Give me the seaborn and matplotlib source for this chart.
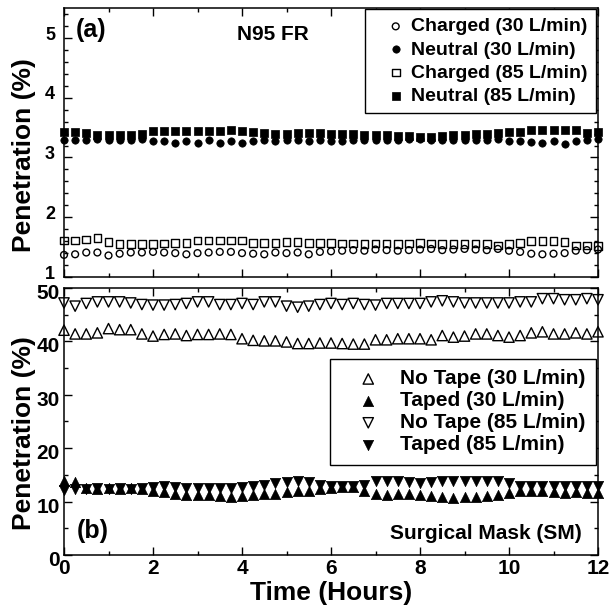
import matplotlib
matplotlib.use("Agg")
import matplotlib.pyplot as plt
import matplotlib.transforms as mtransforms
import seaborn as sns
from matplotlib.ticker import MultipleLocator

# ---------------- data ----------------
hours = [0.0, 0.25, 0.5, 0.75, 1.0, 1.25, 1.5, 1.75, 2.0, 2.25, 2.5, 2.75,
         3.0, 3.25, 3.5, 3.75, 4.0, 4.25, 4.5, 4.75, 5.0, 5.25, 5.5, 5.75,
         6.0, 6.25, 6.5, 6.75, 7.0, 7.25, 7.5, 7.75, 8.0, 8.25, 8.5, 8.75,
         9.0, 9.25, 9.5, 9.75, 10.0, 10.25, 10.5, 10.75, 11.0, 11.25, 11.5,
         11.75, 12.0]

# Panel (a): N95 FR
charged_30 = [1.37, 1.38, 1.41, 1.41, 1.36, 1.39, 1.41, 1.41, 1.42, 1.41, 1.40, 1.38,
              1.40, 1.41, 1.42, 1.42, 1.40, 1.39, 1.38, 1.41, 1.40, 1.41, 1.38, 1.42,
              1.43, 1.44, 1.45, 1.44, 1.46, 1.45, 1.44, 1.45, 1.46, 1.47, 1.45, 1.46,
              1.47, 1.46, 1.45, 1.47, 1.44, 1.42, 1.39, 1.38, 1.39, 1.40, 1.44, 1.45,
              1.46]
neutral_30 = [3.30, 3.29, 3.30, 3.31, 3.29, 3.30, 3.30, 3.31, 3.28, 3.28, 3.25, 3.28,
              3.25, 3.29, 3.25, 3.28, 3.25, 3.27, 3.29, 3.28, 3.29, 3.30, 3.28, 3.29,
              3.28, 3.28, 3.29, 3.30, 3.29, 3.30, 3.30, 3.31, 3.31, 3.30, 3.29, 3.30,
              3.29, 3.30, 3.30, 3.31, 3.28, 3.27, 3.26, 3.24, 3.27, 3.22, 3.27, 3.30,
              3.31]
charged_85 = [1.61, 1.61, 1.63, 1.65, 1.59, 1.55, 1.55, 1.55, 1.55, 1.56, 1.57, 1.57,
              1.61, 1.61, 1.61, 1.61, 1.61, 1.57, 1.57, 1.57, 1.59, 1.59, 1.57, 1.57,
              1.57, 1.56, 1.56, 1.55, 1.56, 1.56, 1.55, 1.56, 1.57, 1.56, 1.55, 1.55,
              1.55, 1.56, 1.55, 1.53, 1.55, 1.57, 1.60, 1.60, 1.60, 1.59, 1.53, 1.53,
              1.52]
neutral_85 = [3.42, 3.42, 3.41, 3.38, 3.38, 3.37, 3.38, 3.39, 3.45, 3.45, 3.44, 3.44,
              3.45, 3.44, 3.45, 3.46, 3.45, 3.42, 3.41, 3.40, 3.40, 3.41, 3.41, 3.41,
              3.39, 3.39, 3.39, 3.38, 3.38, 3.38, 3.36, 3.36, 3.35, 3.34, 3.36, 3.38,
              3.38, 3.39, 3.40, 3.41, 3.42, 3.43, 3.46, 3.46, 3.46, 3.46, 3.46, 3.41,
              3.42]

# Panel (b): Surgical Mask
notape_30 = [42.1, 41.4, 41.4, 41.6, 42.4, 42.2, 42.2, 41.4, 41.0, 41.3, 41.4, 41.1,
             41.3, 41.3, 41.4, 41.3, 40.5, 40.2, 40.1, 40.1, 39.9, 39.6, 39.6, 39.7,
             39.7, 39.6, 39.5, 39.5, 40.3, 40.3, 40.5, 40.5, 40.5, 40.3, 41.1, 40.8,
             41.0, 41.4, 41.4, 41.1, 40.8, 41.1, 41.6, 41.8, 41.4, 41.4, 41.6, 41.4,
             41.8]
taped_30 = [13.9, 13.7, 12.6, 12.4, 12.5, 12.3, 12.5, 12.3, 11.9, 11.8, 11.5, 11.2,
            11.2, 11.3, 11.0, 10.9, 11.0, 11.2, 11.4, 11.5, 11.8, 12.0, 12.0, 12.4,
            12.6, 12.8, 12.7, 12.0, 11.4, 11.3, 11.4, 11.5, 11.2, 11.0, 10.8, 10.7,
            10.8, 10.9, 11.0, 11.2, 11.6, 11.9, 12.0, 11.9, 11.8, 11.7, 11.8, 11.7,
            11.6]
notape_85 = [47.2, 46.6, 47.1, 47.4, 47.4, 47.4, 47.2, 46.9, 46.8, 46.8, 46.9, 47.1,
             47.4, 47.4, 46.9, 46.9, 47.1, 46.9, 47.4, 47.4, 46.6, 46.4, 46.6, 46.9,
             47.1, 46.9, 47.1, 46.9, 46.8, 47.1, 47.1, 47.1, 47.1, 47.4, 47.6, 47.4,
             47.2, 47.2, 47.2, 47.2, 47.2, 47.4, 47.4, 48.0, 48.0, 47.8, 47.8, 48.0,
             47.8]
taped_85 = [12.2, 12.3, 12.4, 12.5, 12.3, 12.5, 12.4, 12.6, 12.8, 12.9, 12.8, 12.6,
            12.6, 12.5, 12.6, 12.5, 12.8, 13.0, 13.2, 13.4, 13.6, 13.8, 13.7, 13.2,
            13.0, 12.9, 12.9, 13.2, 13.8, 13.9, 13.8, 13.6, 13.5, 13.7, 13.8, 13.9,
            13.9, 13.8, 13.8, 13.9, 13.4, 13.0, 12.9, 12.9, 12.9, 13.0, 13.0, 12.9,
            12.9]

labels_a = ["Charged (30 L/min)", "Neutral (30 L/min)",
            "Charged (85 L/min)", "Neutral (85 L/min)"]
labels_b = ["No Tape (30 L/min)", "Taped (30 L/min)",
            "No Tape (85 L/min)", "Taped (85 L/min)"]

# ---------------- style ----------------
sns.set_style("ticks")
plt.rcParams["font.family"] = ["Liberation Sans", "DejaVu Sans"]
plt.rcParams["font.weight"] = "bold"
plt.rcParams["axes.labelweight"] = "bold"
for k in ["axes.edgecolor", "xtick.color", "ytick.color", "text.color",
          "axes.labelcolor"]:
    plt.rcParams[k] = "black"

fig = plt.figure(figsize=(6.16, 6.08), dpi=100)
ax1 = fig.add_axes([0.1039, 0.5444, 0.8669, 0.4424])
ax2 = fig.add_axes([0.1039, 0.0872, 0.8669, 0.4391])


def pts(ax, y, marker, filled, s, label, lw):
    sns.scatterplot(x=hours, y=y, ax=ax, marker=marker, s=s, color="black",
                    facecolor="black" if filled else "none", edgecolor="black",
                    linewidth=lw, label=label, clip_on=False, zorder=3,
                    legend=False)


pts(ax1, charged_30, "o", False, 24, labels_a[0], 1.0)
pts(ax1, neutral_30, "o", True, 28, labels_a[1], 0.5)
pts(ax1, charged_85, "s", False, 30, labels_a[2], 1.0)
pts(ax1, neutral_85, "s", True, 30, labels_a[3], 0.5)

pts(ax2, notape_30, "^", False, 55, labels_b[0], 1.0)
pts(ax2, taped_30, "^", True, 55, labels_b[1], 0.5)
pts(ax2, notape_85, "v", False, 55, labels_b[2], 1.0)
pts(ax2, taped_85, "v", True, 55, labels_b[3], 0.5)

for ax in (ax1, ax2):
    ax.set_xlim(0, 12)
    ax.xaxis.set_major_locator(MultipleLocator(2))
    ax.xaxis.set_minor_locator(MultipleLocator(1))
    ax.tick_params(which="both", direction="in", top=True, right=True,
                   width=1.0, colors="black")
    ax.tick_params(which="major", length=6)
    ax.tick_params(which="minor", length=3)
    for sp in ax.spines.values():
        sp.set_linewidth(1.1)
        sp.set_color("black")
    ax.set_ylabel("Penetration (%)", fontsize=19, fontweight="bold")
    ax.yaxis.set_label_coords(-0.052, 0.455)

ax1.set_ylim(1, 5.5)
ax1.yaxis.set_major_locator(MultipleLocator(1))
ax1.yaxis.set_minor_locator(MultipleLocator(0.2))
ax1.tick_params(axis="x", labelbottom=False)
ax1.tick_params(axis="y", which="major", labelsize=13, pad=6.5)

ax2.set_ylim(0, 50)
ax2.yaxis.set_major_locator(MultipleLocator(10))
ax2.yaxis.set_minor_locator(MultipleLocator(5))
ax2.tick_params(axis="y", which="major", labelsize=15, pad=3)
ax2.tick_params(axis="x", which="major", labelsize=15, pad=3)
ax2.set_xlabel("Time (Hours)", fontsize=19, fontweight="bold")
ax2.xaxis.set_label_coords(0.5, -0.098)

# small vertical offsets of y tick labels, as in the reference
up = mtransforms.ScaledTranslation(0, 3.5 / 72, fig.dpi_scale_trans)
down = mtransforms.ScaledTranslation(0, -2.5 / 72, fig.dpi_scale_trans)
for lab in ax1.get_yticklabels():
    lab.set_transform(lab.get_transform() + up)
for lab in ax2.get_yticklabels():
    lab.set_transform(lab.get_transform() + down)

# annotations
ax1.text(0.0225, 0.918, "(a)", fontsize=18, fontweight="bold", ha="left",
         va="center", transform=ax1.transAxes)
ax1.text(0.3904, 0.903, "N95 FR", fontsize=15, fontweight="bold", ha="center",
         va="center", transform=ax1.transAxes)
ax2.text(0.0243, 0.088, "(b)", fontsize=18, fontweight="bold", ha="left",
         va="center", transform=ax2.transAxes)
ax2.text(0.790, 0.082, "Surgical Mask (SM)", fontsize=15, fontweight="bold",
         ha="center", va="center", transform=ax2.transAxes)

# legends
leg1 = ax1.legend(loc="upper right", bbox_to_anchor=(0.9963, 0.996),
                  borderaxespad=0, frameon=True, fancybox=False,
                  edgecolor="black", framealpha=1,
                  prop={"size": 14, "weight": "bold"}, handlelength=2.29,
                  handletextpad=-0.37, borderpad=0.45, labelspacing=0.28,
                  scatterpoints=1)
leg1.get_frame().set_linewidth(1.0)

leg2 = ax2.legend(loc="upper right", bbox_to_anchor=(0.9963, 0.734),
                  borderaxespad=0, frameon=True, fancybox=False,
                  edgecolor="black", framealpha=1,
                  prop={"size": 15, "weight": "bold"}, handlelength=2.65,
                  handletextpad=0.21, borderpad=0.5, labelspacing=0.14,
                  scatterpoints=1)
leg2.get_frame().set_linewidth(1.0)

fig.savefig("out.png", dpi=100)
